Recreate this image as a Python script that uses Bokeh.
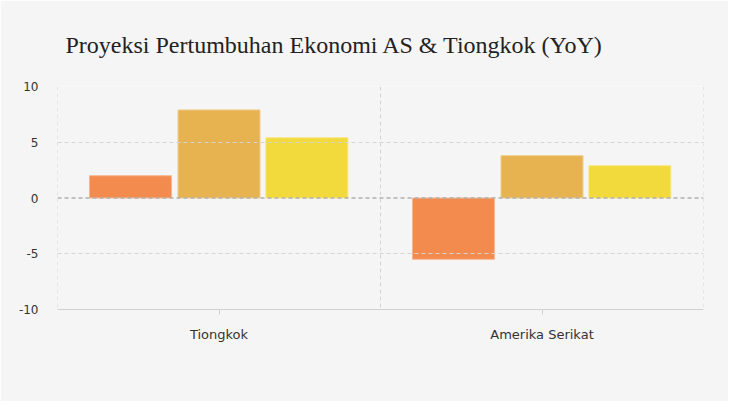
from bokeh.plotting import figure
from bokeh.models import ColumnDataSource, Span, FixedTicker, Title
from bokeh.transform import dodge
from bokeh.embed import file_html
from bokeh.resources import INLINE

categories = ["Tiongkok", "Amerika Serikat"]
series_names = ["2020", "2021", "2022"]
values_2020 = [2.0, -5.5]
values_2021 = [7.9, 3.8]
values_2022 = [5.4, 2.9]
y_ticks = [-10, -5, 0, 5, 10]
y_tick_labels = ["-10", "-5", "0", "5", "10"]
title_text = "Proyeksi Pertumbuhan Ekonomi AS & Tiongkok (YoY)"

colors = ["#F38B4E", "#E6B350", "#F2D93C"]
edges = ["#F8B894", "#F0CF90", "#F7E888"]
offsets = [-0.274, 0.0, 0.272]
bar_w = 0.254

src = ColumnDataSource(dict(cat=categories, s0=values_2020, s1=values_2021, s2=values_2022))

W, H = 728, 401
BL, BR, BT, BB = 57, 25, 86, 92
p = figure(x_range=categories, y_range=(-10, 10), width=W, height=H,
           output_backend="svg", toolbar_location=None,
           min_border_left=BL, min_border_right=BR, min_border_top=BT, min_border_bottom=BB,
           background_fill_color="#F5F5F5", border_fill_color="#F5F5F5")
p.x_range.range_padding = 0
p.outline_line_color = None

for i, col in enumerate(["s0", "s1", "s2"]):
    p.vbar(x=dodge("cat", offsets[i], range=p.x_range), top=col, width=bar_w, source=src,
           fill_color=colors[i], line_color=edges[i], line_width=1, fill_alpha=1)

# grids
p.xgrid.visible = False
p.ygrid.ticker = FixedTicker(ticks=[t for t in y_ticks if t not in (0, -10)])
p.ygrid.grid_line_color = "#D4D4D4"
p.ygrid.grid_line_dash = "4 3"
p.ygrid.level = "overlay"
for b in range(len(categories) + 1):
    p.add_layout(Span(location=b, dimension="height", line_color="#D4D4D4",
                      line_dash="4 3", line_width=1, level="overlay"))
p.add_layout(Span(location=0, dimension="width", line_color="#B0B0B0",
                  line_dash="4 3", line_width=1.5, level="overlay"))

# axes
p.yaxis.ticker = FixedTicker(ticks=y_ticks)
p.yaxis.major_label_overrides = {t: s for t, s in zip(y_ticks, y_tick_labels)}
p.yaxis.axis_line_color = None
p.yaxis.major_tick_line_color = None
p.yaxis.minor_tick_line_color = None
p.yaxis.major_label_standoff = 13
p.yaxis.major_label_text_font = "DejaVu Sans"
p.yaxis.major_label_text_font_size = "12px"
p.yaxis.major_label_text_color = "#333333"

p.xaxis.axis_line_color = "#D0D0D0"
p.xaxis.major_tick_line_color = "#D0D0D0"
p.xaxis.major_tick_in = 0
p.xaxis.major_tick_out = 5
p.xaxis.major_label_standoff = 12
p.xaxis.major_label_text_font = "DejaVu Sans"
p.xaxis.major_label_text_font_size = "13px"
p.xaxis.major_label_text_color = "#333333"

t = Title(text=title_text, align="left", offset=8, standoff=54, vertical_align="top",
          text_font="Liberation Serif", text_font_size="24px",
          text_font_style="normal", text_color="#222222")
p.add_layout(t, "above")

open("out.html", "w").write(file_html(p, INLINE))
